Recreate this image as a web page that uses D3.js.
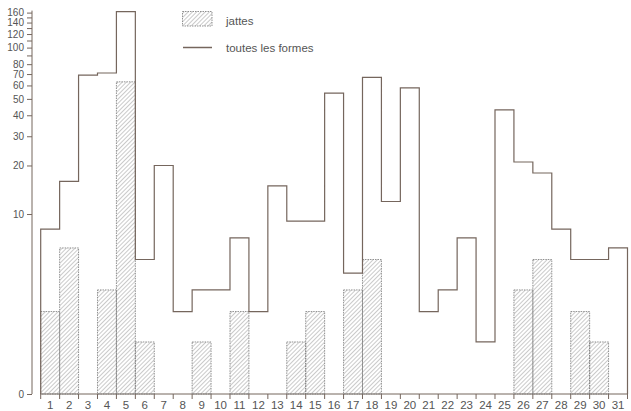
<!DOCTYPE html>
<html>
<head>
<meta charset="utf-8">
<script src="https://cdn.jsdelivr.net/npm/d3@7"></script>
<style>
  body { margin: 0; background: #fff; }
  text { font-family: "Liberation Sans", Arial, sans-serif; fill: #555; }
</style>
</head>
<body>
<div id="chart"></div>
<script>
// classes 1..31
const bins = d3.range(1, 32);
// all shapes (outline)
const totals = [8, 16, 69, 71, 162, 5, 20, 2, 3, 3, 7, 2, 15, 9, 9, 54, 4, 67, 12, 58, 2, 3, 7, 1, 43, 21, 18, 8, 5, 5, 6];
// jattes (hatched)
const jattes = [2, 6, 0, 3, 63, 1, 0, 0, 1, 0, 2, 0, 0, 1, 2, 0, 3, 5, 0, 0, 0, 0, 0, 0, 0, 3, 5, 0, 2, 1, 0];
const yTicks = [0, 10, 20, 30, 40, 50, 60, 70, 80, 90, 100, 110, 120, 130, 140, 150, 160];
const yLabels = [0, 10, 20, 30, 40, 50, 60, 70, 80, 100, 120, 140, 160];

const width = 631, height = 411;
const lineColor = "#75665d";

const svg = d3.select("#chart").append("svg")
    .attr("width", width)
    .attr("height", height);

// hatch pattern
const defs = svg.append("defs");
const pat = defs.append("pattern")
    .attr("id", "hatch")
    .attr("patternUnits", "userSpaceOnUse")
    .attr("width", 3)
    .attr("height", 3)
    .attr("patternTransform", "rotate(45)");
pat.append("line")
    .attr("x1", 0).attr("y1", 0)
    .attr("x2", 0).attr("y2", 3)
    .attr("stroke", "#8a8a8a")
    .attr("stroke-width", 0.9);

const x = d3.scaleLinear().domain([0, 31]).range([40.7, 627.5]);
const y = d3.scaleSymlog().constant(1).domain([0, 160]).range([394, 12.6]);

// y axis
const yAxis = svg.append("g")
    .attr("transform", "translate(32,0)")
    .call(d3.axisLeft(y)
        .tickValues(yTicks)
        .tickSize(5)
        .tickSizeOuter(0)
        .tickFormat(d => yLabels.includes(d) ? d : ""));
yAxis.select(".domain").attr("stroke", lineColor).attr("d", "M0," + y(0) + "V" + (y(160) - 2));
yAxis.selectAll(".tick line").attr("stroke", lineColor);
yAxis.selectAll(".tick text")
    .attr("x", -8)
    .style("font-size", "10px")
    .style("font-family", "'Liberation Sans', Arial, sans-serif")
    .attr("fill", "#555");

// x axis
const xAxis = svg.append("g");
xAxis.append("line")
    .attr("x1", x(0)).attr("x2", x(31))
    .attr("y1", y(0)).attr("y2", y(0))
    .attr("stroke", lineColor);
xAxis.selectAll(".xtick")
    .data(d3.range(0, 32))
    .join("line")
    .attr("class", "xtick")
    .attr("x1", d => x(d)).attr("x2", d => x(d))
    .attr("y1", y(0)).attr("y2", y(0) + 5)
    .attr("stroke", lineColor);
xAxis.selectAll(".xlab")
    .data(bins)
    .join("text")
    .attr("class", "xlab")
    .attr("x", d => x(d - 0.5))
    .attr("y", 409)
    .attr("text-anchor", "middle")
    .style("font-size", "11.5px")
    .text(d => d);

// jattes bars
svg.append("g").selectAll("rect")
    .data(bins.filter((d, i) => jattes[i] > 0))
    .join("rect")
    .attr("x", d => x(d - 1))
    .attr("width", d => x(d) - x(d - 1))
    .attr("y", d => y(jattes[d - 1]))
    .attr("height", d => y(0) - y(jattes[d - 1]))
    .attr("fill", "url(#hatch)")
    .attr("stroke", "#777")
    .attr("stroke-width", 0.8)
    .attr("stroke-dasharray", "1.5,1");

// total outline as a step line
const pts = [[x(0), y(0)]];
bins.forEach((d, i) => {
    pts.push([x(d - 1), y(totals[i])]);
    pts.push([x(d), y(totals[i])]);
});
pts.push([x(31), y(0)]);
svg.append("path")
    .attr("d", d3.line()(pts))
    .attr("fill", "none")
    .attr("stroke", lineColor)
    .attr("stroke-width", 1.2);

// legend
const leg = svg.append("g");
leg.append("rect")
    .attr("x", 182.5).attr("y", 11.5)
    .attr("width", 29.5).attr("height", 14.5)
    .attr("fill", "url(#hatch)")
    .attr("stroke", "#777")
    .attr("stroke-width", 0.8)
    .attr("stroke-dasharray", "1.5,1");
leg.append("text")
    .attr("x", 226).attr("y", 25)
    .style("font-size", "11.5px")
    .text("jattes");
leg.append("line")
    .attr("x1", 183).attr("x2", 212)
    .attr("y1", 47.5).attr("y2", 47.5)
    .attr("stroke", lineColor)
    .attr("stroke-width", 1.5);
leg.append("text")
    .attr("x", 226).attr("y", 52)
    .style("font-size", "11.5px")
    .text("toutes les formes");
</script>
</body>
</html>
